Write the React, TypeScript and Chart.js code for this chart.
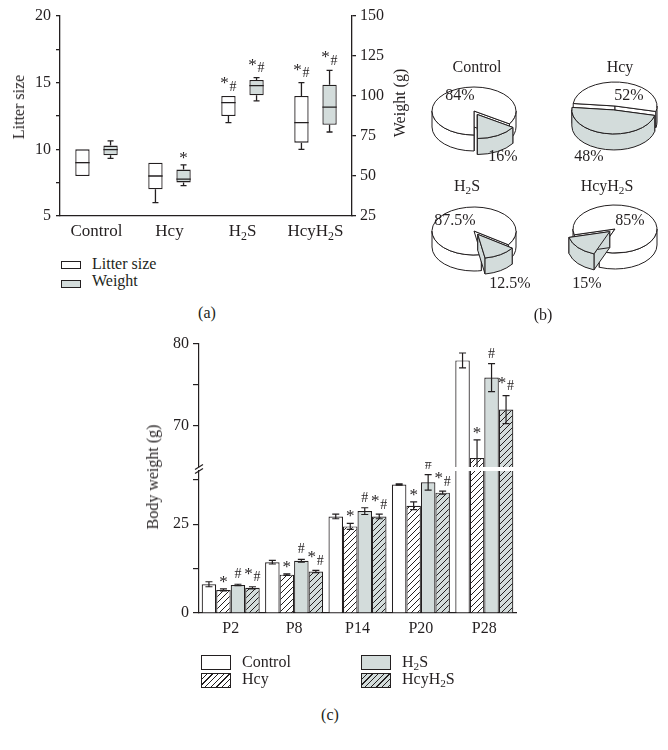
import React, { useEffect, useRef } from 'react';
import { Chart, registerables } from 'chart.js';

Chart.register(...registerables);

const FONT = '"Liberation Serif", "Times New Roman", Times, serif';
const INK = '#231f20';
const GRAY = '#d3dcdb';
const FS = 16;

// ---------- Panel (a): box plots ----------
const groupsA = ['Control', 'Hcy', 'H_2S', 'HcyH_2S'];
const litterMin = [8, 6, 12, 10];
const litterQ1 = [8, 7, 12.5, 10.5];
const litterMedian = [9, 8, 13.5, 12];
const litterQ3 = [10, 9, 14, 14];
const litterMax = [10, 9, 14, 15];
const weightMin = [61, 44, 97, 77.5];
const weightQ1 = [63, 46, 100.5, 82];
const weightMedian = [66.5, 48, 106.5, 93];
const weightQ3 = [69, 54, 110, 107];
const weightMax = [72, 57, 111.5, 116];
const litterMarks = ['', '', '*#', '*#'];
const weightMarks = ['', '*', '*#', '*#'];
const litterTicks = [5, 7.5, 10, 12.5, 15, 17.5, 20];
const litterTickLabels = [5, 10, 15, 20];
const weightTicks = [25, 50, 75, 100, 125, 150];

// ---------- Panel (b): pies ----------
const pieGroups = ['Control', 'Hcy', 'H_2S', 'HcyH_2S'];
const pieMajor = [84, 52, 87.5, 85];
const pieMinor = [16, 48, 12.5, 15];
const pieRotation = [180, 276, 170, 256];

// ---------- Panel (c): body weight ----------
const days = ['P2', 'P8', 'P14', 'P20', 'P28'];
const seriesNames = ['Control', 'Hcy', 'H_2S', 'HcyH_2S'];
const controlW = [8.1, 14.3, 27.2, 36.2, 78.0];
const controlErr = [0.7, 0.5, 0.65, 0.2, 0.9];
const hcyW = [6.5, 10.8, 24.4, 30.2, 66.1];
const hcyErr = [0.3, 0.2, 0.85, 1.1, 2.2];
const h2sW = [7.9, 14.7, 28.7, 36.8, 75.9];
const h2sErr = [0.2, 0.4, 0.95, 2.2, 1.7];
const hcyh2sW = [7.1, 11.7, 27.2, 33.9, 72.0];
const hcyh2sErr = [0.3, 0.3, 0.65, 0.45, 1.7];
const controlMarks = ['', '', '', '', ''];
const hcyMarks = ['*', '*', '*', '*', '*'];
const h2sMarks = ['#', '#', '#', '#', '#'];
const hcyh2sMarks = ['*#', '*#', '*#', '*#', '*#'];
const upperTicks = [70, 75, 80];
const upperTickLabels = [70, 80];
const lowerTicks = [0, 12.5, 25, 37.5];
const lowerTickLabels = [0, 25];

// ---------- helpers ----------
function drawMark(ctx: CanvasRenderingContext2D, mark: string, x: number, top: number) {
  if (!mark) return;
  ctx.save();
  ctx.fillStyle = INK;
  ctx.textAlign = 'center';
  ctx.textBaseline = 'alphabetic';
  if (mark === '*') {
    ctx.font = `17px ${FONT}`;
    ctx.fillText('*', x, top);
  } else if (mark === '#') {
    ctx.font = `14px ${FONT}`;
    ctx.fillText('#', x, top - 4);
  } else {
    ctx.font = `17px ${FONT}`;
    ctx.fillText('*', x - 4, top - 6);
    ctx.font = `14px ${FONT}`;
    ctx.fillText('#', x + 4.5, top - 3.5);
  }
  ctx.restore();
}

function drawRich(ctx: CanvasRenderingContext2D, text: string, x: number, y: number, size: number) {
  const segs = text.split(/(_\d)/).filter(Boolean).map((p) =>
    p.startsWith('_') ? { t: p.slice(1), sub: true, w: 0 } : { t: p, sub: false, w: 0 }
  );
  let total = 0;
  segs.forEach((s) => {
    ctx.font = `${s.sub ? size * 0.7 : size}px ${FONT}`;
    s.w = ctx.measureText(s.t).width;
    total += s.w;
  });
  let cx = x - total / 2;
  ctx.save();
  ctx.fillStyle = INK;
  ctx.textAlign = 'left';
  ctx.textBaseline = 'alphabetic';
  segs.forEach((s) => {
    ctx.font = `${s.sub ? size * 0.7 : size}px ${FONT}`;
    ctx.fillText(s.t, cx, s.sub ? y + size * 0.22 : y);
    cx += s.w;
  });
  ctx.restore();
}

function Rich({ text }: { text: string }) {
  return (
    <>
      {text.split(/(_\d)/).filter(Boolean).map((p, i) =>
        p.startsWith('_') ? (
          <span key={i} style={{ fontSize: '0.7em', position: 'relative', top: '0.28em' }}>{p.slice(1)}</span>
        ) : (
          <span key={i}>{p}</span>
        )
      )}
    </>
  );
}

function T({ x, y, center, children }: { x: number; y: number; center?: boolean; children: any }) {
  return (
    <div
      style={{
        position: 'absolute',
        left: x,
        top: y - 13.4,
        fontSize: FS,
        lineHeight: `${FS}px`,
        whiteSpace: 'nowrap',
        transform: center ? 'translateX(-50%)' : undefined,
      }}
    >
      {children}
    </div>
  );
}

function VText({ x, y, children }: { x: number; y: number; children: any }) {
  return (
    <div
      style={{
        position: 'absolute',
        left: x,
        top: y,
        fontSize: FS,
        lineHeight: `${FS}px`,
        whiteSpace: 'nowrap',
        transform: 'translate(-50%, -50%) rotate(-90deg)',
      }}
    >
      {children}
    </div>
  );
}

function Box({ x, y, w, h, bg, hatch }: { x: number; y: number; w: number; h: number; bg: string; hatch?: boolean }) {
  return (
    <div
      style={{
        position: 'absolute',
        left: x,
        top: y,
        width: w,
        height: h,
        boxSizing: 'border-box',
        border: `1.2px solid ${INK}`,
        background: hatch
          ? `repeating-linear-gradient(135deg, ${bg} 0px, ${bg} 3px, ${INK} 3px, ${INK} 4px)`
          : bg,
      }}
    />
  );
}

const tickFont = { family: FONT, size: FS };
const noPad = (s: any) => {
  s.paddingTop = 0;
  s.paddingBottom = 0;
  s.paddingLeft = 0;
  s.paddingRight = 0;
};

// ---------- Panel (a) component ----------
function BoxPlot() {
  const ref = useRef<HTMLCanvasElement>(null);
  useEffect(() => {
    const boxPlugin = {
      id: 'boxWhiskers',
      afterDatasetsDraw(chart: any) {
        const ctx = chart.ctx as CanvasRenderingContext2D;
        const sets = [
          { min: litterMin, med: litterMedian, max: litterMax, marks: litterMarks, axis: 'y' },
          { min: weightMin, med: weightMedian, max: weightMax, marks: weightMarks, axis: 'y1' },
        ];
        sets.forEach((s, di) => {
          const meta = chart.getDatasetMeta(di);
          const sc = chart.scales[s.axis];
          meta.data.forEach((bar: any, i: number) => {
            const { x, y, base, width } = bar.getProps(['x', 'y', 'base', 'width'], true);
            const left = x - width / 2;
            const right = x + width / 2;
            const top = Math.min(y, base);
            const bottom = Math.max(y, base);
            const pMed = sc.getPixelForValue(s.med[i]);
            const pMin = sc.getPixelForValue(s.min[i]);
            const pMax = sc.getPixelForValue(s.max[i]);
            ctx.save();
            ctx.strokeStyle = INK;
            ctx.lineWidth = 1.3;
            ctx.beginPath();
            ctx.moveTo(left, pMed);
            ctx.lineTo(right, pMed);
            if (pMax < top - 0.5) {
              ctx.moveTo(x, top);
              ctx.lineTo(x, pMax);
              ctx.moveTo(x - 3, pMax);
              ctx.lineTo(x + 3, pMax);
            }
            if (pMin > bottom + 0.5) {
              ctx.moveTo(x, bottom);
              ctx.lineTo(x, pMin);
              ctx.moveTo(x - 3, pMin);
              ctx.lineTo(x + 3, pMin);
            }
            ctx.stroke();
            ctx.restore();
            drawMark(ctx, s.marks[i], x, Math.min(pMax, top) - 2);
          });
        });
      },
      afterDraw(chart: any) {
        const ctx = chart.ctx as CanvasRenderingContext2D;
        const xs = chart.scales.x;
        groupsA.forEach((g, i) => {
          drawRich(ctx, g, xs.getPixelForTick(i), chart.chartArea.bottom + 20, FS + 1);
        });
      },
    };
    const chart = new Chart(ref.current!, {
      type: 'bar',
      data: {
        labels: groupsA,
        datasets: [
          {
            label: 'Litter size',
            data: litterQ1.map((q, i) => [q, litterQ3[i]]),
            yAxisID: 'y',
            backgroundColor: '#ffffff',
            borderColor: INK,
            borderWidth: 1.3,
            borderSkipped: false,
            categoryPercentage: 0.77,
            barPercentage: 0.51,
          },
          {
            label: 'Weight',
            data: weightQ1.map((q, i) => [q, weightQ3[i]]),
            yAxisID: 'y1',
            backgroundColor: GRAY,
            borderColor: INK,
            borderWidth: 1.3,
            borderSkipped: false,
            categoryPercentage: 0.77,
            barPercentage: 0.51,
          },
        ] as any,
      },
      options: {
        animation: false,
        responsive: false,
        maintainAspectRatio: false,
        layout: { padding: { top: 16, left: 0, right: 0, bottom: 0 } },
        plugins: { legend: { display: false }, tooltip: { enabled: false } },
        scales: {
          x: {
            grid: { display: false, drawTicks: false },
            border: { display: true, color: INK, width: 1.3 },
            ticks: { display: false },
            afterFit: (s: any) => { noPad(s); s.height = 34; },
          },
          y: {
            position: 'left',
            min: 5,
            max: 20,
            afterBuildTicks: (s: any) => { s.ticks = litterTicks.map((v) => ({ value: v })); },
            ticks: {
              callback: (v: any) => (litterTickLabels.includes(Number(v)) ? String(v) : ''),
              font: tickFont,
              color: INK,
              padding: 5,
            },
            grid: { display: true, drawOnChartArea: false, drawTicks: true, tickLength: 4, color: INK, lineWidth: 1.3 },
            border: { display: true, color: INK, width: 1.3 },
            afterFit: (s: any) => { noPad(s); s.width = 60; },
          },
          y1: {
            position: 'right',
            min: 25,
            max: 150,
            afterBuildTicks: (s: any) => { s.ticks = weightTicks.map((v) => ({ value: v })); },
            ticks: { font: tickFont, color: INK, padding: 4 },
            grid: { display: true, drawOnChartArea: false, drawTicks: true, tickLength: 4, color: INK, lineWidth: 1.3 },
            border: { display: true, color: INK, width: 1.3 },
            afterFit: (s: any) => { noPad(s); s.width = 63; },
          },
        } as any,
      },
      plugins: [boxPlugin],
    });
    return () => chart.destroy();
  }, []);
  return <canvas ref={ref} width={415} height={250} style={{ position: 'absolute', left: 0, top: 0 }} />;
}

// ---------- Panel (b) component ----------
const pie3d = {
  id: 'pie3d',
  beforeDatasetsDraw(chart: any, _args: any, opts: any) {
    const ctx = chart.ctx as CanvasRenderingContext2D;
    const { rx, ry, depth, cx, cy } = opts;
    const k = ry / rx;
    const meta = chart.getDatasetMeta(0);
    const slices = meta.data.map((arc: any) => {
      const p = arc.getProps(['startAngle', 'endAngle'], true);
      const off = arc.options.offset || 0;
      const mid = (p.startAngle + p.endAngle) / 2;
      return {
        s: p.startAngle,
        e: p.endAngle,
        ox: cx + Math.cos(mid) * off,
        oy: cy + Math.sin(mid) * off * k,
        fill: arc.options.backgroundColor,
      };
    });
    slices.sort((a: any, b: any) => a.oy - b.oy);
    ctx.save();
    ctx.lineJoin = 'round';
    ctx.strokeStyle = INK;
    ctx.lineWidth = 1;
    const TAU = Math.PI * 2;
    for (const sl of slices) {
      const P = (a: number) => [sl.ox + rx * Math.cos(a), sl.oy + ry * Math.sin(a)];
      for (const a of [sl.s, sl.e]) {
        const [px, py] = P(a);
        ctx.beginPath();
        ctx.moveTo(sl.ox, sl.oy);
        ctx.lineTo(px, py);
        ctx.lineTo(px, py + depth);
        ctx.lineTo(sl.ox, sl.oy + depth);
        ctx.closePath();
        ctx.fillStyle = sl.fill;
        ctx.fill();
        ctx.stroke();
      }
      for (let n = -2; n <= 2; n++) {
        const a0 = Math.max(sl.s, n * TAU);
        const a1 = Math.min(sl.e, n * TAU + Math.PI);
        if (a1 > a0) {
          ctx.beginPath();
          ctx.ellipse(sl.ox, sl.oy, rx, ry, 0, a0, a1, false);
          ctx.ellipse(sl.ox, sl.oy + depth, rx, ry, 0, a1, a0, true);
          ctx.closePath();
          ctx.fillStyle = sl.fill;
          ctx.fill();
          ctx.stroke();
        }
      }
      ctx.beginPath();
      ctx.moveTo(sl.ox, sl.oy);
      ctx.ellipse(sl.ox, sl.oy, rx, ry, 0, sl.s, sl.e, false);
      ctx.closePath();
      ctx.fillStyle = sl.fill;
      ctx.fill();
      ctx.stroke();
    }
    ctx.restore();
    return false;
  },
};

function Pie3D({ index, x, y }: { index: number; x: number; y: number }) {
  const ref = useRef<HTMLCanvasElement>(null);
  useEffect(() => {
    const chart = new Chart(ref.current!, {
      type: 'pie',
      data: {
        labels: ['major', 'minor'],
        datasets: [
          {
            data: [pieMajor[index], pieMinor[index]],
            backgroundColor: ['#ffffff', GRAY],
            borderColor: INK,
            borderWidth: 1,
            offset: [0, 7],
            rotation: pieRotation[index],
          } as any,
        ],
      },
      options: {
        animation: false,
        responsive: false,
        maintainAspectRatio: false,
        plugins: {
          legend: { display: false },
          tooltip: { enabled: false },
          pie3d: { rx: 42, ry: 24, depth: 16, cx: 65, cy: 30 },
        } as any,
      },
      plugins: [pie3d],
    });
    return () => chart.destroy();
  }, [index]);
  return <canvas ref={ref} width={130} height={95} style={{ position: 'absolute', left: x - 65, top: y - 30 }} />;
}

// ---------- Panel (c) component ----------
function makeHatch(ctx: CanvasRenderingContext2D, bg: string) {
  const c = document.createElement('canvas');
  c.width = 6;
  c.height = 6;
  const g = c.getContext('2d')!;
  g.fillStyle = bg;
  g.fillRect(0, 0, 6, 6);
  g.strokeStyle = INK;
  g.lineWidth = 1;
  g.beginPath();
  g.moveTo(-1, 7);
  g.lineTo(7, -1);
  g.moveTo(-1, 1);
  g.lineTo(1, -1);
  g.moveTo(5, 7);
  g.lineTo(7, 5);
  g.stroke();
  return ctx.createPattern(c, 'repeat')!;
}

function BarPart({ part }: { part: 'upper' | 'lower' }) {
  const ref = useRef<HTMLCanvasElement>(null);
  const upper = part === 'upper';
  useEffect(() => {
    const canvas = ref.current!;
    const ctx0 = canvas.getContext('2d')!;
    const hatchW = makeHatch(ctx0, '#ffffff');
    const hatchG = makeHatch(ctx0, GRAY);
    const series = [
      { data: controlW, err: controlErr, marks: controlMarks, fill: '#ffffff' as any },
      { data: hcyW, err: hcyErr, marks: hcyMarks, fill: hatchW as any },
      { data: h2sW, err: h2sErr, marks: h2sMarks, fill: GRAY as any },
      { data: hcyh2sW, err: hcyh2sErr, marks: hcyh2sMarks, fill: hatchG as any },
    ];
    const errPlugin = {
      id: 'errbars',
      afterDatasetsDraw(chart: any) {
        const c = chart.ctx as CanvasRenderingContext2D;
        const area = chart.chartArea;
        const ys = chart.scales.y;
        c.save();
        c.beginPath();
        c.rect(area.left, area.top - 1, area.right - area.left, area.bottom - area.top + 1);
        c.clip();
        c.strokeStyle = INK;
        c.lineWidth = 1.2;
        series.forEach((s, di) => {
          const meta = chart.getDatasetMeta(di);
          meta.data.forEach((bar: any, i: number) => {
            const x = bar.x;
            const pt = ys.getPixelForValue(s.data[i] + s.err[i]);
            const pb = ys.getPixelForValue(s.data[i] - s.err[i]);
            c.beginPath();
            c.moveTo(x, pt);
            c.lineTo(x, pb);
            c.moveTo(x - 3.5, pt);
            c.lineTo(x + 3.5, pt);
            c.moveTo(x - 3.5, pb);
            c.lineTo(x + 3.5, pb);
            c.stroke();
          });
        });
        c.restore();
        series.forEach((s, di) => {
          const meta = chart.getDatasetMeta(di);
          meta.data.forEach((bar: any, i: number) => {
            const v = s.data[i];
            if (v > ys.min && v + s.err[i] < ys.max) {
              drawMark(c, s.marks[i], bar.x, ys.getPixelForValue(v + s.err[i]) - 2);
            }
          });
        });
      },
      afterDraw(chart: any) {
        const c = chart.ctx as CanvasRenderingContext2D;
        const area = chart.chartArea;
        const l = area.left;
        c.save();
        c.strokeStyle = INK;
        c.lineWidth = 1.2;
        c.beginPath();
        if (upper) {
          const b = area.bottom;
          c.moveTo(l - 4, b + 2.5);
          c.lineTo(l + 4, b - 2.5);
        } else {
          const t = area.top;
          c.moveTo(l - 4, t + 2.5);
          c.lineTo(l + 4, t - 2.5);
        }
        c.stroke();
        c.restore();
      },
    };
    const chart = new Chart(canvas, {
      type: 'bar',
      data: {
        labels: days,
        datasets: series.map((s, i) => ({
          label: seriesNames[i],
          data: s.data,
          backgroundColor: s.fill,
          borderColor: INK,
          borderWidth: 1.2,
          categoryPercentage: 0.915,
          barPercentage: 1,
          clip: 0,
        })) as any,
      },
      options: {
        animation: false,
        responsive: false,
        maintainAspectRatio: false,
        layout: { padding: upper ? { top: 14, right: 14, bottom: 6, left: 0 } : { top: 9, right: 14, bottom: 0, left: 0 } },
        plugins: { legend: { display: false }, tooltip: { enabled: false } },
        scales: {
          x: upper
            ? { display: false }
            : {
                grid: { display: false, drawTicks: false },
                border: { display: true, color: INK, width: 1.2 },
                ticks: { font: tickFont, color: INK, padding: 6 },
                afterFit: (s: any) => { noPad(s); s.height = 30; },
              },
          y: {
            min: upper ? 65 : 0,
            max: upper ? 80 : 40,
            afterBuildTicks: (s: any) => {
              s.ticks = (upper ? upperTicks : lowerTicks).map((v) => ({ value: v }));
            },
            ticks: {
              callback: (v: any) =>
                (upper ? upperTickLabels : lowerTickLabels).includes(Number(v)) ? String(v) : '',
              font: tickFont,
              color: INK,
              padding: 4,
            },
            grid: { display: true, drawOnChartArea: false, drawTicks: true, tickLength: 6, color: INK, lineWidth: 1.2 },
            border: { display: true, color: INK, width: 1.2 },
            afterFit: (s: any) => { noPad(s); s.width = 69; },
          },
        } as any,
      },
      plugins: [errPlugin],
    });
    return () => chart.destroy();
  }, [part]);
  return upper ? (
    <canvas ref={ref} width={400} height={143} style={{ position: 'absolute', left: 130, top: 330 }} />
  ) : (
    <canvas ref={ref} width={400} height={181} style={{ position: 'absolute', left: 130, top: 462 }} />
  );
}

// ---------- App ----------
export default function App() {
  return (
    <div
      style={{
        position: 'absolute',
        left: 0,
        top: 0,
        width: 668,
        height: 750,
        background: '#ffffff',
        fontFamily: FONT,
        color: INK,
        overflow: 'hidden',
      }}
    >
      {/* Panel (a) */}
      <BoxPlot />
      <VText x={19} y={107}>Litter size</VText>
      <VText x={400} y={103}>Weight (g)</VText>
      <Box x={61} y={261} w={20} h={8} bg="#ffffff" />
      <T x={92} y={269}>Litter size</T>
      <Box x={61} y={280} w={20} h={8} bg={GRAY} />
      <T x={92} y={286}>Weight</T>
      <T x={207} y={318} center>(a)</T>

      {/* Panel (b) */}
      <Pie3D index={0} x={474} y={111} />
      <Pie3D index={1} x={615} y={106} />
      <Pie3D index={2} x={474} y={231} />
      <Pie3D index={3} x={615} y={229} />
      <T x={477} y={72} center><Rich text={pieGroups[0]} /></T>
      <T x={620} y={72} center><Rich text={pieGroups[1]} /></T>
      <T x={467} y={191} center><Rich text={pieGroups[2]} /></T>
      <T x={607} y={191} center><Rich text={pieGroups[3]} /></T>
      <T x={460} y={100} center>{`${pieMajor[0]}%`}</T>
      <T x={503} y={161} center>{`${pieMinor[0]}%`}</T>
      <T x={629} y={100} center>{`${pieMajor[1]}%`}</T>
      <T x={589} y={161} center>{`${pieMinor[1]}%`}</T>
      <T x={455} y={225} center>{`${pieMajor[2]}%`}</T>
      <T x={510} y={288} center>{`${pieMinor[2]}%`}</T>
      <T x={630} y={225} center>{`${pieMajor[3]}%`}</T>
      <T x={587} y={288} center>{`${pieMinor[3]}%`}</T>
      <T x={543} y={320} center>(b)</T>

      {/* Panel (c) */}
      <BarPart part="upper" />
      <BarPart part="lower" />
      <VText x={153} y={477}>Body weight (g)</VText>
      <Box x={201} y={655} w={30} h={15} bg="#ffffff" />
      <T x={242} y={667}><Rich text={seriesNames[0]} /></T>
      <Box x={201} y={673} w={30} h={15} bg="#ffffff" hatch />
      <T x={242} y={684}><Rich text={seriesNames[1]} /></T>
      <Box x={361} y={655} w={30} h={15} bg={GRAY} />
      <T x={402} y={667}><Rich text={seriesNames[2]} /></T>
      <Box x={361} y={673} w={30} h={15} bg={GRAY} hatch />
      <T x={402} y={684}><Rich text={seriesNames[3]} /></T>
      <T x={330} y={720} center>(c)</T>
    </div>
  );
}
